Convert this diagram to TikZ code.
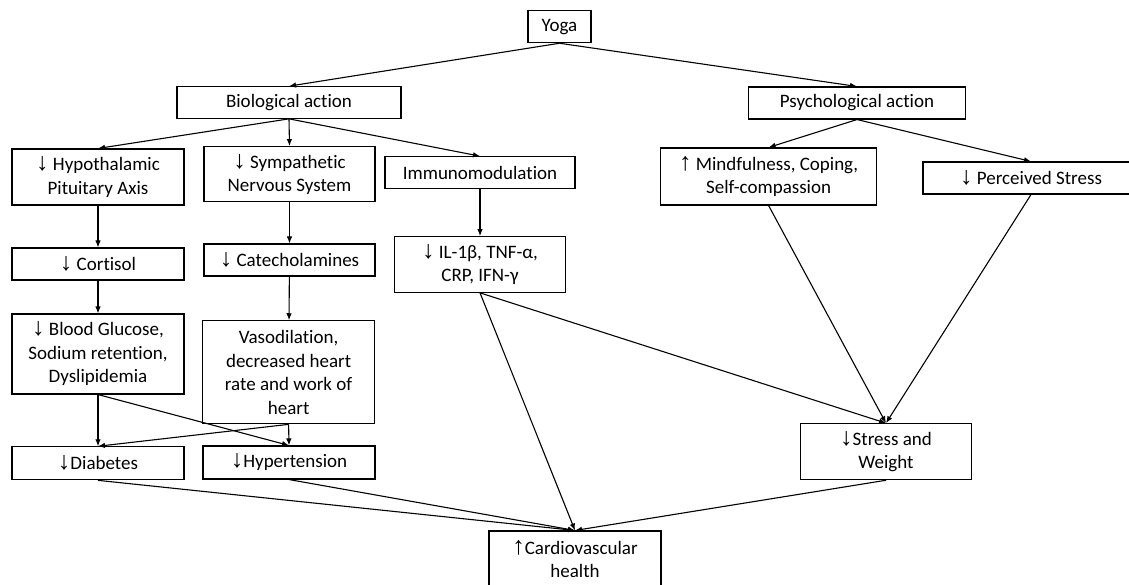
\documentclass[tikz,border=0pt]{standalone}
\usepackage{fontspec}
\setmainfont[Ligatures=NoCommon]{Carlito}
\newfontfamily\symfont{Liberation Sans}
\newcommand{\dnar}{{\symfont\fontsize{25}{23.5}\selectfont ↓}}
\newcommand{\upar}{{\symfont\fontsize{25}{23.5}\selectfont ↑}}
\usetikzlibrary{arrows.meta}

\begin{document}
\begin{tikzpicture}[x=1pt, y=-1pt, >={Latex[length=7pt,width=5.5pt]},
  font=\fontsize{19}{23.5}\selectfont,
  box/.style={draw, line width=1.1pt, align=center, inner sep=2pt},
  link/.style={->, line width=1.1pt}]

\useasboundingbox (0,0) rectangle (1129,585);

% top levels
\node[box, minimum width=63pt, minimum height=32pt] (yoga) at (559.5,26.7) {Yoga};
\node[box, minimum width=224pt, minimum height=31.6pt] (bio) at (289,102.5) {Biological action};
\node[box, minimum width=216.6pt, minimum height=32pt] (psy) at (857,103) {Psychological action};

% biological branch
\node[box, minimum width=172pt, minimum height=56pt] (hpa) at (98,177) {\dnar{} Hypothalamic\\Pituitary Axis};
\node[box, minimum width=171pt, minimum height=55.3pt] (sns) at (289.5,174.3) {\dnar{} Sympathetic\\Nervous System};
\node[box, minimum width=190pt, minimum height=31.6pt] (imm) at (480,172.5) {Immunomodulation};
\node[box, minimum width=172pt, minimum height=32pt] (cort) at (98,264) {\dnar{} Cortisol};
\node[box, minimum width=171pt, minimum height=32pt] (cat) at (289.5,260) {\dnar{} Catecholamines};
\node[box, minimum width=171pt, minimum height=55.6pt] (cyto) at (480,264.5) {\dnar{} IL-1β, TNF-α,\\CRP, IFN-γ};
\node[box, minimum width=172pt, minimum height=80pt] (glu) at (98,354) {\dnar{} Blood Glucose,\\Sodium retention,\\Dyslipidemia};
\node[box, minimum width=172pt, minimum height=103pt] (vaso) at (288.6,372.3) {Vasodilation,\\decreased heart\\rate and work of\\heart};
\node[box, minimum width=172pt, minimum height=33pt] (diab) at (98,463.3) {\dnar Diabetes};
\node[box, minimum width=172pt, minimum height=33pt] (hyp) at (289,462.5) {\dnar Hypertension};

% psychological branch
\node[box, minimum width=216pt, minimum height=57pt] (mind) at (768.6,176.5) {\upar{} Mindfulness, Coping,\\Self-compassion};
\node[box, minimum width=216pt, minimum height=32pt] (pstress) at (1031,178) {\dnar{} Perceived Stress};
\node[box, minimum width=171.5pt, minimum height=56pt] (sw) at (886,451.7) {\dnar Stress and\\Weight};

% outcome
\node[box, minimum width=172pt, minimum height=56pt] (cvh) at (575,559) {\upar Cardiovascular\\health};

% links
\draw[link] (yoga.south) -- (bio.north);
\draw[link] (yoga.south) -- (psy.north);
\draw[link] (bio.south) -- (hpa.north);
\draw[link] (bio.south) -- (sns.north);
\draw[link] (bio.south) -- (imm.north);
\draw[link] (hpa) -- (cort);
\draw[link] (sns) -- (cat);
\draw[link] (imm) -- (cyto);
\draw[link] (cort) -- (glu);
\draw[link] (cat) -- (vaso);
\draw[link] (glu.south) -- (diab.north);
\draw[link] (glu.south) -- (hyp.north);
\draw[link] (vaso.south) -- (hyp.north);
\draw[link] (vaso.south) -- (diab.north);
\draw[link] (psy.south) -- (mind.north);
\draw[link] (psy.south) -- (pstress.north);
\draw[link] (mind.south) -- (sw.north);
\draw[link] (pstress.south) -- (sw.north);
\draw[link] (cyto.south) -- (sw.north);
\draw[link] (cyto.south) -- (cvh.north);
\draw[link] (diab.south) -- (cvh.north);
\draw[link] (hyp.south) -- (cvh.north);
\draw[link] (sw.south) -- (cvh.north);

\end{tikzpicture}
\end{document}
